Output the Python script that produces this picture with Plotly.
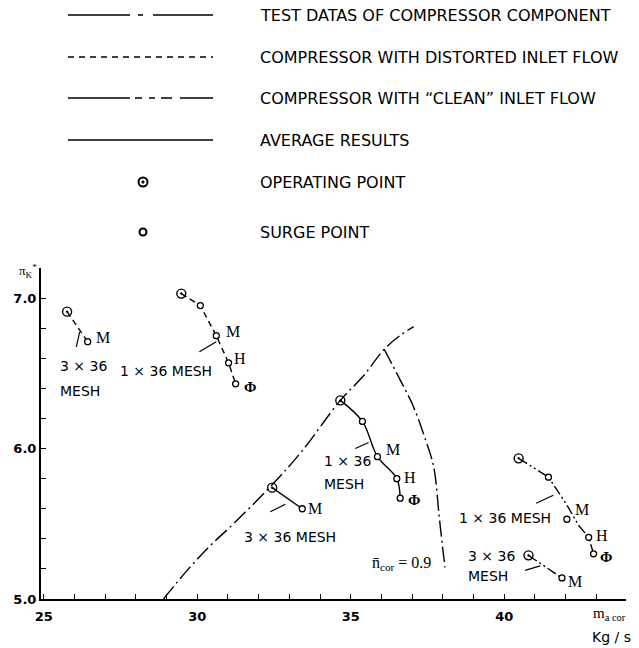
import plotly.graph_objects as go

W, H = 639, 648

# ---------------- data ----------------
# surge line  (test data of compressor component)
surge_x = [28.9, 29.67, 30.4, 31.18, 32.44, 33.4, 34.66, 35.4, 36.09, 36.6, 37.05]
surge_y = [5.0, 5.19, 5.35, 5.5, 5.76, 5.98, 6.32, 6.48, 6.66, 6.75, 6.81]
# constant speed line  n_cor = 0.9  (test data)
speed_x = [36.09, 36.6, 37.04, 37.4, 37.7, 37.88, 38.0, 38.07]
speed_y = [6.66, 6.46, 6.28, 6.08, 5.88, 5.55, 5.33, 5.21]

# distorted inlet flow
g1_x = [25.76, 26.43]                       # 3 x 36 mesh
g1_y = [6.91, 6.71]
g2_x = [29.48, 30.1, 30.62, 31.02, 31.25]   # 1 x 36 mesh
g2_y = [7.03, 6.95, 6.75, 6.57, 6.43]
# average results
g3_x = [34.66, 35.38, 35.87, 36.5, 36.61]   # 1 x 36 mesh
g3_y = [6.32, 6.18, 5.946, 5.8, 5.67]
g4_x = [32.44, 33.42]                       # 3 x 36 mesh
g4_y = [5.74, 5.6]
# clean inlet flow
g5_line_x = [40.47, 41.44, 42.04, 42.42, 42.75, 42.91]   # 1 x 36 mesh
g5_line_y = [5.935, 5.81, 5.625, 5.49, 5.41, 5.30]
g5_x = [40.47, 41.44, 42.04, 42.75, 42.91]
g5_y = [5.935, 5.81, 5.53, 5.41, 5.30]
g6_x = [40.79, 41.88]                       # 3 x 36 mesh
g6_y = [5.29, 5.14]

x_tick_vals = [25, 30, 35, 40]
x_minor_vals = list(range(25, 44))
y_tick_vals = [5.0, 6.0, 7.0]
y_minor_vals = [5.0, 5.2, 5.4, 5.6, 5.8, 6.0, 6.2, 6.4, 6.6, 6.8, 7.0]

point_labels = [  # (x, y, text)
    (26.94, 6.74, "M"),
    (31.18, 6.776, "M"), (31.40, 6.60, "H"), (31.73, 6.41, "Φ"),
    (36.39, 5.995, "M"), (36.94, 5.81, "H"), (37.05, 5.66, "Φ"),
    (33.83, 5.60, "M"),
    (42.53, 5.596, "M"), (43.18, 5.42, "H"), (43.32, 5.277, "Φ"),
    (42.31, 5.115, "M"),
]
mesh_labels = [  # (x, y, text, anchor)
    (25.47, 6.55, "3 × 36", "left"), (25.47, 6.38, "MESH", "left"),
    (28.99, 6.515, "1 × 36 MESH", "center"),
    (34.06, 5.917, "1 × 36", "left"), (34.06, 5.764, "MESH", "left"),
    (31.46, 5.414, "3 × 36 MESH", "left"),
    (38.46, 5.538, "1 × 36 MESH", "left"),
    (38.76, 5.286, "3 × 36", "left"), (38.76, 5.153, "MESH", "left"),
]
leaders = [  # (x0, y0, x1, y1)
    (26.06, 6.676, 26.17, 6.776),
    (30.07, 6.643, 30.62, 6.71),
    (35.15, 6.00, 35.58, 6.04),
    (32.38, 5.58, 32.87, 5.63),
    (41.04, 5.636, 41.60, 5.69),
    (40.68, 5.19, 41.17, 5.22),
]

legend_labels = [
    "TEST DATAS OF COMPRESSOR COMPONENT",
    "COMPRESSOR WITH DISTORTED INLET FLOW",
    "COMPRESSOR WITH \u201cCLEAN\u201d INLET FLOW",
    "AVERAGE RESULTS",
    "OPERATING POINT",
    "SURGE POINT",
]

# ---------------- styles ----------------
DASH_TEST = "16px,4px,2px,4px"
DASH_DIST = "6px,4px"
DASH_CLEAN = "10px,3px,2px,3px,2px,3px"
LEG_DASH = ["62px,8px,5px,10px", "6px,5px",
            "62px,5px,7px,7px,6px,6px,11px,8px", "solid"]
LEG_ROW_Y = [15, 57, 98, 140, 182, 232]
LEG_LINE_X = [68, 213]
LEG_SYM_X = 143
LEG_TEXT_X = 258

SANS = "DejaVu Sans"
SERIF = "Liberation Serif"

fig = go.Figure()

def line(x, y, dash, width=1.4, shape="linear"):
    fig.add_trace(go.Scatter(x=x, y=y, mode="lines", line=dict(color="black", width=width, dash=dash, shape=shape),
                             hoverinfo="skip", showlegend=False))

def pts(x, y):
    # first point: big circle with dot, others: small circles
    fig.add_trace(go.Scatter(x=x[:1], y=y[:1], mode="markers",
                             marker=dict(symbol="circle-open-dot", size=9, color="black", line=dict(width=1.4)),
                             hoverinfo="skip", showlegend=False))
    fig.add_trace(go.Scatter(x=x[1:], y=y[1:], mode="markers",
                             marker=dict(symbol="circle", size=6, color="white", line=dict(width=1.3, color="black")),
                             hoverinfo="skip", showlegend=False))

line(surge_x, surge_y, DASH_TEST, shape="spline")
line(speed_x, speed_y, DASH_TEST, shape="spline")
line(g1_x, g1_y, DASH_DIST)
line(g2_x, g2_y, DASH_DIST)
line(g3_x, g3_y, "solid", shape="spline")
line(g4_x, g4_y, "solid")
line(g5_line_x, g5_line_y, DASH_CLEAN)
line(g6_x, g6_y, DASH_CLEAN)
for gx, gy in [(g1_x, g1_y), (g2_x, g2_y), (g3_x, g3_y), (g4_x, g4_y), (g5_x, g5_y), (g6_x, g6_y)]:
    pts(gx, gy)

shapes = []
for x0, y0, x1, y1 in leaders:
    shapes.append(dict(type="line", xref="x", yref="y", x0=x0, y0=y0, x1=x1, y1=y1,
                       line=dict(color="black", width=1.2)))

annotations = []
for x, y, t in point_labels:
    annotations.append(dict(x=x, y=y, xref="x", yref="y", text=t, showarrow=False,
                            xanchor="center", yanchor="middle",
                            font=dict(family=SERIF, size=16 if t != "Φ" else 15, color="black",
                                      weight="bold" if t == "Φ" else "normal")))
for x, y, t, a in mesh_labels:
    annotations.append(dict(x=x, y=y, xref="x", yref="y", text=t, showarrow=False,
                            xanchor=a, yanchor="middle", font=dict(family=SANS, size=14, color="black")))
annotations.append(dict(x=36.64, y=5.233, xref="x", yref="y", text="n\u0304<sub>cor</sub> = 0.9", showarrow=False,
                        xanchor="center", yanchor="middle", font=dict(family=SERIF, size=16, color="black")))

# legend on a full-page overlay axis (pixel units)
for i, d in enumerate(LEG_DASH):
    fig.add_trace(go.Scatter(x=LEG_LINE_X, y=[LEG_ROW_Y[i]] * 2, xaxis="x2", yaxis="y2", mode="lines",
                             line=dict(color="black", width=1.6, dash=d), hoverinfo="skip", showlegend=False))
fig.add_trace(go.Scatter(x=[LEG_SYM_X], y=[LEG_ROW_Y[4]], xaxis="x2", yaxis="y2", mode="markers",
                         marker=dict(symbol="circle-open-dot", size=9, color="black", line=dict(width=2)),
                         hoverinfo="skip", showlegend=False))
fig.add_trace(go.Scatter(x=[LEG_SYM_X], y=[LEG_ROW_Y[5]], xaxis="x2", yaxis="y2", mode="markers",
                         marker=dict(symbol="circle-open", size=7, color="black", line=dict(width=2)),
                         hoverinfo="skip", showlegend=False))
for i, t in enumerate(legend_labels):
    annotations.append(dict(x=LEG_TEXT_X, y=LEG_ROW_Y[i], xref="x2", yref="y2", text=t, showarrow=False,
                            xanchor="left", yanchor="middle", font=dict(family=SANS, size=16, color="black")))

# axis titles
annotations.append(dict(x=28, y=271, xref="x2", yref="y2", text="π<sub>K</sub><sup>*</sup>", showarrow=False,
                        xanchor="center", yanchor="middle", font=dict(family=SERIF, size=13, color="black")))
annotations.append(dict(x=591, y=614, xref="x2", yref="y2", text="m<sub>a cor</sub>", showarrow=False,
                        xanchor="left", yanchor="middle", font=dict(family=SERIF, size=15, color="black")))
annotations.append(dict(x=611, y=637, xref="x2", yref="y2", text="Kg / s", showarrow=False,
                        xanchor="center", yanchor="middle", font=dict(family=SANS, size=14, color="black")))

tick_common = dict(ticks="inside", ticklen=5, tickwidth=1.3, tickcolor="black")
fig.update_layout(
    width=W, height=H, margin=dict(l=0, r=0, t=0, b=0, autoexpand=False),
    paper_bgcolor="white", plot_bgcolor="rgba(0,0,0,0)",
    xaxis=dict(domain=[41 / W, 625.5 / W], range=[24.91, 43.95], showgrid=False, zeroline=False,
               showline=True, linecolor="black", linewidth=2, automargin=False,
               tickvals=x_tick_vals, ticklabelstandoff=4,
               minor=dict(tickvals=x_minor_vals, showgrid=False, **tick_common),
               tickfont=dict(family=SANS, size=13, color="black", weight="bold"), anchor="y", **tick_common),
    yaxis=dict(domain=[(H - 599) / H, (H - 268) / H], range=[5.0, 7.2], showgrid=False, zeroline=False,
               showline=True, linecolor="black", linewidth=2, automargin=False,
               tickvals=y_tick_vals, tickformat=".1f",
               minor=dict(tickvals=y_minor_vals, showgrid=False, **tick_common),
               tickfont=dict(family=SANS, size=13, color="black", weight="bold"), anchor="x", **tick_common),
    xaxis2=dict(domain=[0, 1], range=[0, W], visible=False, anchor="y2", fixedrange=True, automargin=False),
    yaxis2=dict(domain=[0, 1], range=[H, 0], visible=False, anchor="x2", fixedrange=True, automargin=False),
    shapes=shapes, annotations=annotations,
)

fig.write_html("out.html", config={"displayModeBar": False},
               post_script="document.body.style.margin='0';document.body.style.overflow='hidden';")
